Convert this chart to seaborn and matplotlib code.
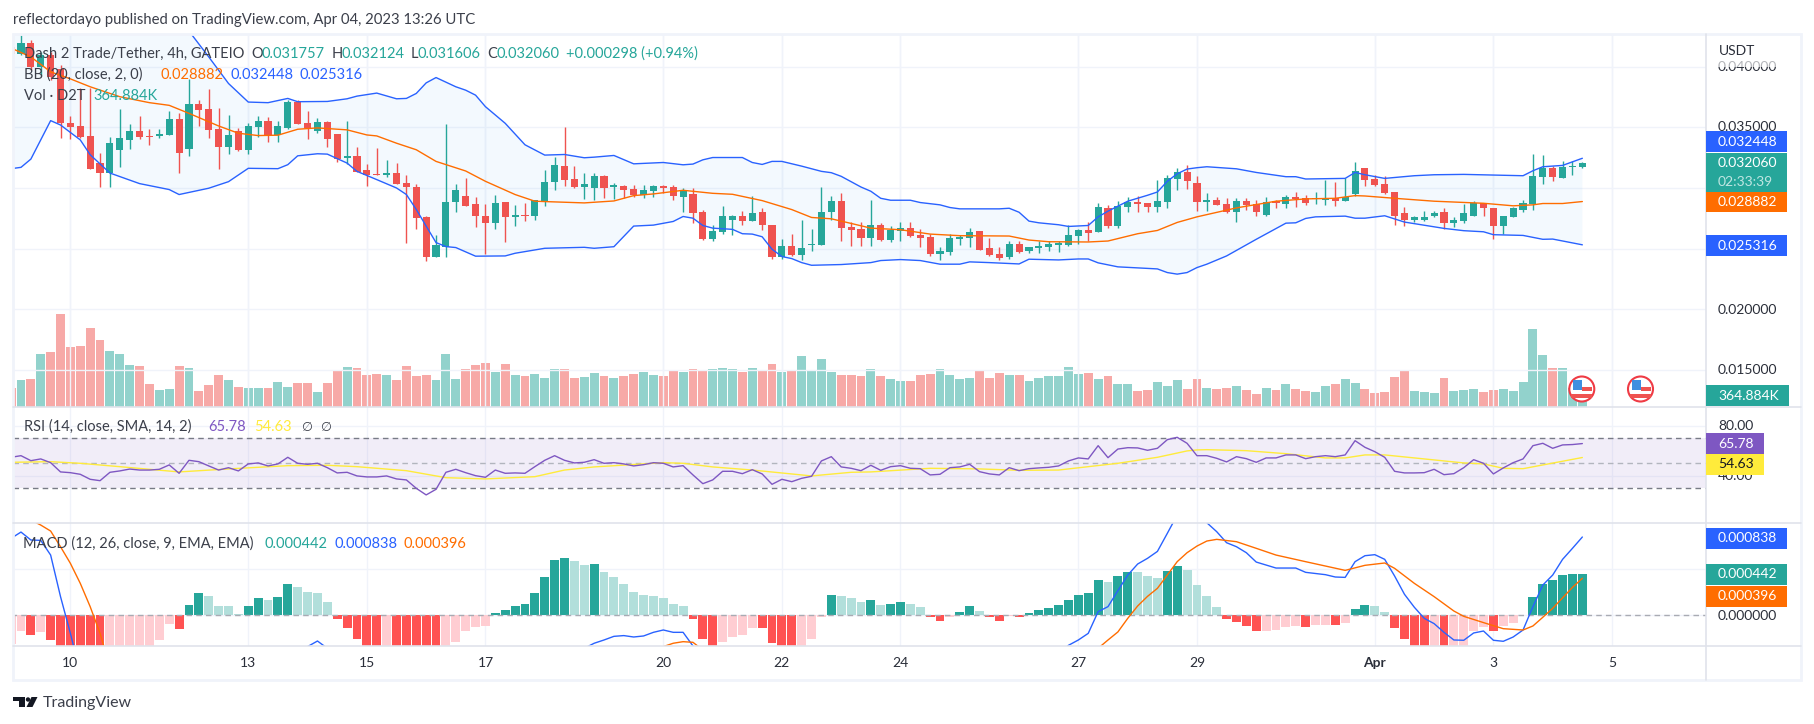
import numpy as np
import pandas as pd
import matplotlib
matplotlib.use("Agg")
import matplotlib.pyplot as plt
from matplotlib.patches import Rectangle, Circle, Polygon
import seaborn as sns

sns.set_theme(style="white")
plt.rcParams['font.family'] = ['Lato', 'DejaVu Sans']

# ---------------------- CANDLES (values in 0.001 USDT, 4h bars) ----------------------
open_ = [41.60,41.01,41.97,39.97,40.98,39.84,35.36,35.11,34.29,32.05,
         31.20,33.14,33.96,34.70,34.29,34.29,34.37,35.66,33.25,36.91,
         36.48,34.84,33.39,34.67,33.14,35.03,35.52,34.34,34.92,37.10,
         35.36,34.70,35.44,34.45,32.43,32.65,31.50,31.18,31.04,31.26,
         30.44,30.11,27.57,24.29,25.16,28.88,29.37,28.72,27.73,27.08,
         28.83,27.57,27.81,27.65,28.96,30.52,31.83,30.77,30.11,30.03,
         31.01,30.05,30.19,29.95,29.45,29.78,30.19,30.11,29.29,29.54,
         27.98,25.77,26.34,27.40,27.73,27.24,28.06,26.99,24.29,25.19,
         24.45,25.27,25.27,27.98,28.96,26.75,26.59,25.85,26.91,25.68,
         26.42,26.67,26.09,25.93,24.54,24.70,25.77,25.85,26.42,25.03,
         24.54,24.29,25.36,24.78,25.03,25.11,25.27,25.27,26.01,26.50,
         26.34,28.39,26.83,28.47,28.88,28.80,28.47,28.88,30.77,31.34,
         30.44,28.88,29.04,28.72,28.06,28.96,28.72,27.81,28.96,28.72,
         29.29,29.21,29.10,29.04,29.21,28.96,29.54,31.67,30.77,30.36,
         29.70,27.90,27.40,27.40,27.73,27.98,27.08,27.24,27.65,28.80,
         28.39,26.83,27.57,28.22,28.72,30.93,31.61,30.85,31.69,31.757]
high = [41.80,42.57,42.16,41.20,41.20,40.11,35.93,38.28,38.28,32.87,
        34.18,36.48,35.27,35.93,34.86,34.86,36.37,36.15,38.99,37.24,
        38.14,36.56,36.01,34.92,35.33,35.90,35.82,35.52,37.24,37.24,
        36.34,35.74,35.49,34.45,35.52,33.39,32.00,33.31,32.32,32.05,
        31.07,30.33,27.73,26.09,35.27,30.36,30.85,29.26,28.72,29.43,
        28.88,28.63,28.80,29.04,31.50,32.57,35.03,31.83,31.26,31.26,
        31.09,30.44,30.27,30.27,30.27,30.27,30.27,30.27,30.03,30.03,
        28.22,26.99,28.55,27.81,28.14,29.37,28.31,26.99,25.77,26.18,
        27.32,26.59,30.11,29.37,29.62,27.16,27.16,29.04,27.08,26.83,
        27.16,27.16,26.59,26.18,25.11,26.18,26.09,26.67,26.42,25.85,
        25.11,25.60,25.60,25.11,25.60,25.60,25.60,26.99,26.59,27.16,
        28.80,28.63,28.96,29.29,29.37,28.80,30.68,31.09,31.67,31.91,
        31.01,29.62,29.29,29.21,29.21,29.21,29.04,29.29,29.04,29.45,
        29.70,29.45,29.70,30.68,30.52,30.85,32.16,31.67,31.09,31.01,
        29.70,28.47,27.73,28.14,28.14,28.39,27.57,28.72,28.96,28.80,
        28.39,27.73,28.47,29.04,32.81,32.73,31.78,32.24,32.24,32.124]
low = [40.90,40.93,39.70,39.21,38.88,34.15,34.07,34.10,31.58,30.06,
       30.06,31.69,33.20,34.02,33.55,34.10,34.37,31.20,32.60,35.11,
       34.15,31.58,32.81,33.06,32.81,34.18,33.80,33.80,34.84,35.27,
       34.04,34.56,33.39,32.10,32.00,31.34,30.19,31.04,30.87,30.36,
       25.44,26.59,23.96,24.29,24.34,28.06,28.55,26.75,24.54,26.59,
       25.52,26.83,27.30,27.32,28.55,29.86,30.19,30.03,29.13,29.04,
       29.21,29.13,29.21,29.29,29.21,29.29,29.59,29.04,28.06,27.08,
       25.68,25.60,26.18,26.09,26.99,27.24,26.50,24.13,24.13,24.37,
       24.04,24.78,25.27,27.40,25.60,25.19,25.19,25.19,25.60,25.52,
       25.60,25.93,25.11,24.37,24.04,24.45,25.27,25.11,24.86,24.37,
       24.04,24.13,24.62,24.62,24.62,24.78,24.70,25.19,25.36,25.60,
       26.34,26.67,26.67,27.98,27.98,27.98,28.06,28.39,29.86,29.95,
       28.14,28.14,28.63,27.90,27.16,28.22,27.73,27.65,28.39,28.39,
       28.47,28.63,28.72,28.63,28.55,28.96,29.37,30.19,30.19,29.54,
       26.91,26.83,27.16,27.24,27.57,26.59,26.75,27.08,27.65,27.73,
       25.77,26.18,27.57,27.98,28.22,30.35,30.60,30.85,31.09,31.606]
close = [41.00,41.97,39.97,40.98,39.15,35.38,35.03,34.18,31.58,31.20,
         33.69,34.10,34.70,34.21,34.24,34.45,35.66,32.92,36.91,36.42,
         34.78,33.39,34.37,33.09,35.11,35.52,34.32,35.11,37.10,35.27,
         34.92,35.44,34.04,32.38,32.65,31.34,31.07,31.04,31.26,30.36,
         30.11,27.49,24.29,25.27,28.88,29.86,28.55,27.65,27.08,28.80,
         27.57,27.81,27.65,29.04,30.52,31.91,30.68,30.11,30.36,31.01,
         30.03,30.27,29.86,29.40,29.86,30.19,30.03,29.37,29.78,27.90,
         25.77,26.42,27.73,27.73,27.24,27.90,26.91,24.29,25.19,24.45,
         25.03,25.36,28.06,28.96,26.67,26.50,25.85,26.91,25.68,26.50,
         26.67,26.01,25.85,24.54,24.78,25.85,25.93,26.34,24.86,24.45,
         24.21,25.36,24.70,25.11,25.19,25.36,25.44,26.09,26.50,26.26,
         28.47,26.83,28.55,28.88,28.72,28.47,28.96,30.85,31.34,30.60,
         28.88,29.04,28.63,28.06,28.96,28.63,28.06,28.88,28.80,29.29,
         29.13,28.80,29.18,29.21,28.96,29.29,31.42,30.68,30.27,29.62,
         27.73,27.40,27.57,27.57,27.90,27.08,27.32,27.90,28.80,28.31,
         26.83,27.65,28.31,28.80,31.01,31.61,30.93,31.75,31.83,32.060]

# volume in K, one per candle
volume = [627,891,924,1749,1815,3069,1980,2013,2607,2211,
          1848,1749,1386,1353,759,561,594,1353,1287,528,
          726,1056,891,660,627,627,627,825,660,792,
          792,495,792,1221,1320,1287,1056,1089,1056,891,
          1353,1023,1056,891,1749,924,1254,1386,1452,1155,
          1419,1056,1023,1089,957,1254,1254,957,990,1122,
          1023,957,1023,1089,1155,1056,1023,1188,1155,1254,
          1221,1254,1287,1254,1155,1287,1221,1419,1155,1188,
          1683,1221,1584,1155,1056,1056,1023,1254,1023,924,
          858,858,1056,1089,1254,1056,924,957,1188,957,
          1122,1056,1056,858,957,1023,1023,1320,1089,1122,
          924,1023,759,759,528,561,825,693,891,594,
          924,627,594,627,693,561,429,627,561,759,
          594,528,495,693,759,924,792,594,462,495,
          990,1188,528,495,462,957,528,561,594,495,
          561,594,528,825,2574,1716,1287,1287,605,364.884]

# ---------------------- BOLLINGER BANDS (0.001 USDT, read at the line's bends) ----------------------
upper_x = [-6,4,11,12,14,16,18,20,22,23,26,28,29,31,33,34,35,36,37,39,40,41,42,44,46,48,50,52,53,
           55,57,60,62,63,64,65,68,69,70,71,72,74,76,77,78,80,81,82,83,85,86,88,89,90,94,95,96,97,98,
           100,101,103,104,105,106,107,109,110,111,112,113,114,115,118,120,123,124,125,129,130,131,133,
           136,138,141,147,148,149,151,153]
upper = [47.0,47.0,44.5,42.93,40.80,38.61,37.08,37.03,37.38,37.11,37.13,37.35,37.57,37.82,37.35,37.38,37.79,38.66,39.10,
         38.34,38.06,37.65,36.70,35.33,33.56,32.71,32.76,32.49,32.54,
         32.68,31.99,32.10,31.91,31.97,32.32,32.51,32.51,32.10,31.94,32.19,32.19,31.80,31.37,31.26,30.96,
         30.08,29.73,29.15,28.99,28.99,28.80,28.61,28.39,28.28,28.28,28.33,28.00,27.27,27.13,
         26.97,26.83,26.91,27.62,28.09,28.50,28.91,29.40,29.67,30.55,31.17,31.56,31.67,31.75,31.58,
         31.28,30.93,30.93,30.74,30.79,31.28,31.09,30.79,31.01,31.09,31.12,31.01,31.42,31.75,31.86,32.448]
lower_x = [-6,-5,-4,-2,-1,1,2,4,7,10,11,14,16,18,21,22,23,25,26,28,29,31,33,34,35,36,37,38,39,41,44,45,48,52,
           53,55,57,59,61,62,63,64,65,67,68,69,70,71,72,73,74,75,78,81,82,84,86,88,90,91,93,96,97,100,102,103,
           104,106,110,111,112,113,114,115,117,120,123,124,125,126,129,130,131,133,135,139,141,143,144,147,149,150,153]
lower = [31.59,31.70,32.38,35.55,35.19,33.96,32.74,31.23,30.36,29.87,29.46,29.98,30.52,31.62,31.59,31.92,32.65,32.82,32.79,
         32.05,31.37,30.69,30.00,29.46,28.23,26.86,25.50,25.17,25.09,24.38,24.40,24.62,25.03,25.11,
         25.03,25.16,26.86,26.94,27.24,27.65,27.51,26.91,26.69,26.59,26.23,26.20,25.98,24.95,24.35,24.18,23.85,23.63,
         23.69,23.85,24.02,24.10,24.02,23.72,23.72,23.91,23.85,23.74,24.13,24.07,24.15,24.15,
         23.83,23.50,23.33,23.03,22.90,23.03,23.44,23.72,24.40,25.77,27.10,27.13,27.49,27.62,27.68,27.51,27.51,27.71,
         27.19,26.67,26.48,26.39,26.15,26.09,25.77,25.79,25.316]
basis_x = [-6,-4,-2,0,2,5,8,10,12,15,17,19,21,23,25,28,30,31,33,35,37,40,42,45,47,48,52,
           55,57,59,62,65,67,70,73,75,77,79,81,84,87,90,95,97,99,103,105,108,110,112,114,
           118,122,125,128,130,131,134,138,143,146,148,149,151,153]
basis = [41.53,40.80,39.57,38.99,38.34,37.52,37.03,36.81,36.15,35.11,34.51,34.32,34.35,34.84,34.95,34.79,34.37,34.29,33.69,
         33.15,32.19,31.40,30.55,29.46,28.91,28.88,28.77,
         28.93,29.37,29.51,29.81,29.56,29.48,28.96,28.22,27.57,27.46,27.08,26.69,26.56,26.20,26.07,26.04,25.71,25.57,
         25.55,25.63,26.23,26.50,27.16,27.62,
         28.36,28.91,29.10,29.15,29.37,29.34,29.15,28.91,28.74,28.53,28.61,28.72,28.72,28.882]

# ---------------------- RSI ----------------------
rsi = [54.8,56.1,52.1,53.5,50.5,43.1,42.5,41.2,37.2,36.1,
       42.8,43.9,45.4,44.6,44.6,45.2,48.7,42.0,52.4,51.3,
       47.9,44.6,46.5,43.9,49.5,50.3,47.9,49.5,54.8,50.0,
       49.2,50.0,46.5,42.3,42.8,39.9,39.1,39.1,39.9,37.5,
       36.7,30.0,24.7,29.2,42.8,45.2,42.5,40.1,38.8,44.6,
       42.0,42.3,42.0,47.3,52.4,56.1,52.4,50.3,50.8,52.9,
       50.0,50.5,49.5,47.9,48.9,50.5,50.0,47.1,48.1,40.7,
       33.7,36.7,43.6,43.6,41.7,44.9,41.5,33.2,37.2,35.3,
       38.0,39.6,51.9,55.3,47.1,46.0,44.1,48.4,44.4,47.3,
       48.1,46.0,45.7,40.7,41.2,46.5,47.1,49.2,43.3,41.5,
       40.7,46.5,44.1,45.7,46.3,46.8,47.9,51.9,54.3,53.5,
       64.1,54.5,61.4,62.5,62.3,60.4,62.0,68.9,70.8,66.0,
       56.1,56.1,54.0,51.1,55.3,53.7,50.8,54.3,54.3,56.7,
       56.7,53.7,55.3,56.1,55.3,56.7,68.1,62.8,59.3,54.8,
       43.6,42.3,42.3,42.5,45.2,40.9,41.7,46.5,52.9,50.0,
       41.5,46.3,50.5,53.5,64.1,66.0,62.0,64.7,65.0,65.78]
rsi_ma_x = [-6,-2,1,5,8,11,16,22,26,29,34,38,42,47,50,53,60,62,65,69,75,79,81,87,92,96,100,106,110,113,114,115,
            119,123,127,129,131,133,137,141,143,145,147,153]
rsi_ma = [50.8,51.3,50.0,47.3,45.2,43.1,45.5,48.1,48.4,47.3,44.1,38.5,37.5,39.3,44.6,47.1,50.5,50.0,47.1,44.6,39.9,
          42.8,43.1,46.0,45.5,44.4,44.6,50.0,54.8,59.9,60.7,60.9,60.1,57.7,54.3,54.3,56.7,56.7,53.5,50.3,49.5,46.0,45.7,54.63]

# ---------------------- MACD (values in 0.000001) ----------------------
macd_hist = [-307,-168,-210,-178,-264,-380,-440,-470,-480,-490,
             -470,-440,-420,-400,-350,-264,-93,-146,111,239,
             207,100,100,14,100,185,164,196,335,303,
             250,239,143,-39,-135,-253,-340,-360,-350,-370,
             -390,-420,-450,-480,-430,-285,-168,-125,-114,25,
             57,100,121,239,410,592,613,581,538,549,
             463,410,335,250,217,207,185,121,100,-39,
             -253,-330,-285,-232,-210,-135,-135,-296,-340,-350,
             -330,-253,-18,217,207,185,143,164,111,121,
             143,121,89,-18,-61,-18,36,100,46,-18,
             -61,-7,-18,25,57,78,111,164,217,239,
             378,356,421,463,463,421,399,474,528,485,
             324,207,89,-39,-71,-114,-168,-168,-157,-125,
             -114,-125,-103,-103,-103,-82,68,111,100,36,
             -135,-253,-330,-340,-335,-345,-335,-325,-168,-125,
             -168,-114,-82,4,196,335,378,431,442,442]
# D = strong colour, L = pale colour of the histogram bar
hist_shade = list("LLDLDDDDDD" "LLLLLLLDDD" "LLLLDDLDDL" "LLLDDDDDLD" "DDDDLLLLLD"
                  "DDDDDDDLLD" "LLLLLLLLLD" "DDLLLLDDDD" "LLLDLLLDLD" "DLLDDLDDLD"
                  "DLDDDDDDDD" "DLDDLLLDDL" "LLLDDDDLLL" "LDLLDLDDLL" "DDDDLDLLLL"
                  "DLLDDDDDDD")
macd_x = [-6,-5,-4,-3,-2,-1,0,1,10,23,24,25,26,30,45,52,53,54,55,56,57,58,59,60,61,62,63,64,70,95,100,101,102,103,104,105,
          106,107,108,109,110,111,112,113,114,115,116,117,118,119,120,122,124,125,127,128,129,130,131,132,133,134,135,136,137,
          138,139,140,141,142,143,144,145,146,147,148,149,150,151,152,153]
macd = [824,891,806,802,645,200,-193,-620,-800,-371,-335,-275,-353,-905,-905,-353,-299,-264,-225,-217,-232,-221,-182,-157,-182,-182,
        -328,-549,-905,-905,-406,-321,-264,-193,39,93,264,431,549,610,684,877,1073,1198,1127,991,895,777,734,670,570,506,506,460,
        435,410,406,574,638,649,599,421,225,86,-32,-89,-182,-264,-267,-189,-168,-267,-278,-232,-157,93,324,431,599,717,838]
signal_x = [-6,-4,-3,-2,-1,0,1,2,3,4,10,50,58,60,61,62,63,64,70,100,103,104,105,106,107,108,109,110,111,112,113,114,115,116,
            118,120,122,125,129,131,133,134,136,138,140,141,143,145,147,148,149,150,152,153]
signal = [1091,1020,966,902,734,556,342,93,-193,-549,-850,-850,-478,-335,-299,-282,-289,-371,-850,-850,-442,-353,-264,-178,-32,
          100,203,289,431,574,670,741,795,813,788,717,645,574,481,535,560,503,342,200,46,-11,-78,-143,-157,-114,-21,75,299,396]

# ---------------------- AXIS LABELS ----------------------
date_pos = [0,18,30,42,60,72,84,102,114,132,144,156]
date_labels = ['10','13','15','17','20','22','24','27','29','Apr','3','5']
price_ticks = [0.040,0.035,0.030,0.025,0.020,0.015]
rsi_ticks = [80,40]
macd_ticks = [500,0]

W, H = 1814, 724
GREEN, RED = '#26a69a', '#ef5350'
BLUE, ORANGE, PURPLE, YELLOW = '#2962ff', '#ff6d00', '#7e57c2', '#ffeb3b'
GRID = '#f0f3fa'
EDGE = '#e0e3eb'

bars = np.arange(-6, 154)
o = np.array(open_) * 1e-3
h = np.array(high) * 1e-3
l = np.array(low) * 1e-3
c = np.array(close) * 1e-3
up = c >= o

fig = plt.figure(figsize=(W / 100, H / 100), dpi=100)

def pane(top, bottom, left=13, right=1706, zorder=1):
    ax = fig.add_axes([left / W, 1 - bottom / H, (right - left) / W, (bottom - top) / H], zorder=zorder)
    ax.patch.set_alpha(0)
    for s in ax.spines.values():
        s.set_visible(False)
    return ax

def finish(ax, ylim, yticks):
    # bar 0 sits at x=70.4 and bars are 9.882 px apart
    ax.set_xlim((13 - 70.4) / 9.882, (1706 - 70.4) / 9.882)
    ax.set_ylim(*ylim)
    ax.set_xticks(date_pos)
    ax.set_yticks(yticks)
    ax.tick_params(length=0, labelbottom=False, labelleft=False)
    ax.set_xlabel('')
    ax.set_ylabel('')
    ax.grid(True, color=GRID, lw=1)
    ax.set_axisbelow(True)

def draw_line(ax, x, y, color, lw=1.0, zorder=5):
    sns.lineplot(x=x, y=y, ax=ax, color=color, lw=lw, estimator=None, sort=False, zorder=zorder)

# ---------------------- VOLUME ----------------------
ax_vol = pane(34, 406.5, zorder=1)
vol_df = pd.DataFrame({'bar': bars, 'vol': volume, 'dir': np.where(up, 'up', 'down')})
sns.barplot(data=vol_df, x='bar', y='vol', hue='dir', palette={'up': '#92d2cc', 'down': '#f7a9a7'},
            dodge=False, native_scale=True, width=0.9, saturation=1, errorbar=None, legend=False,
            linewidth=0, ax=ax_vol)
finish(ax_vol, (0, 372.5 * 33), [])

# ---------------------- PRICE ----------------------
ax_price = pane(34, 406.5, zorder=2)
ax_price.fill(np.r_[upper_x, lower_x[::-1]], np.r_[upper, lower[::-1]] * 1e-3,
              color='#2196f3', alpha=0.05, lw=0)
ax_price.vlines(bars, l, h, color=np.where(up, GREEN, RED), lw=1.0, zorder=3)
ax_price.bar(bars, np.maximum(np.abs(c - o), 0.00003), bottom=np.minimum(o, c), width=0.72,
             color=np.where(up, GREEN, RED), linewidth=0, zorder=4)
draw_line(ax_price, upper_x, np.array(upper) * 1e-3, BLUE)
draw_line(ax_price, lower_x, np.array(lower) * 1e-3, BLUE)
draw_line(ax_price, basis_x, np.array(basis) * 1e-3, ORANGE)
finish(ax_price, (0.011992, 0.042689), price_ticks)

# ---------------------- RSI PANE ----------------------
ax_rsi = pane(406.5, 523, zorder=1)
ax_rsi.axhspan(30, 70, color=PURPLE, alpha=0.1, lw=0)
ax_rsi.axhline(70, color='#787b86', lw=1, dashes=(4, 3))
ax_rsi.axhline(30, color='#787b86', lw=1, dashes=(4, 3))
ax_rsi.axhline(50, color='#b2b5be', lw=1, dashes=(4, 3))
draw_line(ax_rsi, rsi_ma_x, rsi_ma, YELLOW)
draw_line(ax_rsi, bars, rsi, PURPLE)
finish(ax_rsi, (2.24, 95.44), rsi_ticks)

# ---------------------- MACD PANE ----------------------
ax_macd = pane(523, 645.5, zorder=1)
shade = np.array(hist_shade)
hist = np.array(macd_hist)
kind = np.where(hist >= 0, np.where(shade == 'D', 'gd', 'gl'), np.where(shade == 'D', 'rd', 'rl'))
macd_df = pd.DataFrame({'bar': bars, 'hist': hist, 'kind': kind})
sns.barplot(data=macd_df, x='bar', y='hist', hue='kind',
            palette={'gd': GREEN, 'gl': '#b2dfdb', 'rd': '#ff5252', 'rl': '#ffcdd2'},
            dodge=False, native_scale=True, width=0.9, saturation=1, errorbar=None, legend=False,
            linewidth=0, ax=ax_macd)
ax_macd.plot([-6, 165.5], [0, 0], color='#a9abb3', lw=1, dashes=(4, 3), zorder=1)
draw_line(ax_macd, macd_x, macd, BLUE)
draw_line(ax_macd, signal_x, signal, ORANGE)
finish(ax_macd, (-323, 988), macd_ticks)

# ---------------------- OVERLAY: BORDERS, TEXT, LABELS (in picture pixels) ----------------------
ov = fig.add_axes([0, 0, 1, 1], zorder=10)
ov.set_xlim(0, W)
ov.set_ylim(H, 0)
ov.axis('off')
ov.patch.set_alpha(0)

ov.add_patch(Rectangle((12.6, 34), 1801 - 12.6, 680 - 34, fill=False, ec=GRID, lw=2))
for y in (406.5, 523, 645.5):
    ov.plot([13, 1801], [y, y], color=EDGE, lw=1.2)
ov.plot([1706, 1706], [34, 680], color=EDGE, lw=1.2)

DARK = '#3b3f4a'
def txt(x, y, s, color=DARK, size=10, **kw):
    ov.text(x, y, s, color=color, fontsize=size, va='center', ha=kw.pop('ha', 'left'), **kw)

txt(13, 20, 'reflectordayo published on TradingView.com, Apr 04, 2023 13:26 UTC', size=10.7)

def zx(p):  # legend positions were read from the zoomed view
    return p / 2.613

txt(zx(62), 53.7, 'Dash 2 Trade/Tether, 4h, GATEIO', size=10.5)
txt(zx(658), 53.7, 'O', size=10.5)
txt(zx(684), 53.7, '0.031757', GREEN, size=10.5)
txt(zx(866), 53.7, 'H', size=10.5)
txt(zx(892), 53.7, '0.032124', GREEN, size=10.5)
txt(zx(1074), 53.7, 'L', size=10.5)
txt(zx(1092), 53.7, '0.031606', GREEN, size=10.5)
txt(zx(1274), 53.7, 'C', size=10.5)
txt(zx(1298), 53.7, '0.032060', GREEN, size=10.5)
txt(zx(1480), 53.7, '+0.000298 (+0.94%)', GREEN, size=10.5)
txt(zx(62), 75, 'BB (20, close, 2, 0)', size=10.5)
txt(zx(420), 75, '0.028882', ORANGE, size=10.5)
txt(zx(601), 75, '0.032448', BLUE, size=10.5)
txt(zx(783), 75, '0.025316', BLUE, size=10.5)
txt(zx(62), 96, 'Vol \u00b7 D2T', size=10.5)
txt(zx(245), 96, '364.884K', GREEN, size=10.5)
txt(zx(62), 427, 'RSI (14, close, SMA, 14, 2)', size=10.5)
txt(zx(545), 427, '65.78', PURPLE, size=10.5)
txt(zx(665), 427, '54.63', YELLOW, size=10.5)
txt(zx(787), 427, '\u2205', size=9)
txt(zx(836), 427, '\u2205', size=9)
txt(zx(60), 543.7, 'MACD (12, 26, close, 9, EMA, EMA)', size=10.5)
txt(zx(692), 543.7, '0.000442', GREEN, size=10.5)
txt(zx(873), 543.7, '0.000838', BLUE, size=10.5)
txt(zx(1054), 543.7, '0.000396', ORANGE, size=10.5)

# right axis tick text
AX = '#2a2e39'
for val, y in [('0.040000', 67), ('0.035000', 127.3), ('0.020000', 309.8), ('0.015000', 370),
               ('80.00', 425.8), ('40.00', 475.8), ('0.000000', 615.7)]:
    txt(1718, y, val, AX)
txt(1719, 51, 'USDT', AX, size=10)
# the top tick label fades out under the currency label
ov.add_patch(Rectangle((1712, 59), 85, 8, fc='white', ec='none', alpha=0.65, zorder=3.5))

# last value tags
for y0, y1, x1, col, s, tc in [(131, 152, 1787, BLUE, '0.032448', 'white'),
                               (192, 212, 1787, ORANGE, '0.028882', 'white'),
                               (235, 256, 1787, BLUE, '0.025316', 'white'),
                               (385, 406, 1789, GREEN, '364.884K', 'white'),
                               (433, 454, 1764, PURPLE, '65.78', 'white'),
                               (454, 475, 1764, YELLOW, '54.63', '#131722'),
                               (528, 549, 1787, BLUE, '0.000838', 'white'),
                               (564, 585, 1787, GREEN, '0.000442', 'white'),
                               (586, 607, 1787, ORANGE, '0.000396', 'white')]:
    ov.add_patch(Rectangle((1706, y0), x1 - 1706, y1 - y0, fc=col, ec='none', zorder=4))
    ov.text(1718, (y0 + y1) / 2, s, color=tc, fontsize=10, va='center', zorder=5)
ov.add_patch(Rectangle((1706, 153), 81, 39, fc=GREEN, ec='none', zorder=4))
ov.text(1718, 163, '0.032060', color='white', fontsize=10, va='center', zorder=5)
ov.text(1718, 182, '02:33:39', color='#bfe6e2', fontsize=10, va='center', zorder=5)

# date labels
for p, s in zip(date_pos, date_labels):
    ov.text(70.4 + 9.882 * p, 663, s, color=AX, fontsize=10, ha='center', va='center',
            fontweight='bold' if s == 'Apr' else 'normal')

# economic event flags
for fx in (1581.8, 1640.5):
    ov.add_patch(Circle((fx, 389), 12.5, fc='white', ec='#ef3b45', lw=1.5, zorder=6))
    ov.add_patch(Rectangle((fx - 10.5, 394), 21, 4, fc='#ef5350', ec='none', zorder=7))
    ov.add_patch(Rectangle((fx, 387), 10, 4, fc='#ef5350', ec='none', zorder=7))
    ov.add_patch(Rectangle((fx - 9, 380), 9, 10, fc='#3d8fe0', ec='none', zorder=8))

# TradingView logo
ov.add_patch(Polygon([(13, 697), (25, 697), (25, 707), (19, 707), (19, 701), (13, 701)], fc='#131722', ec='none'))
ov.add_patch(Circle((28, 699.5), 2.2, fc='#131722', ec='none'))
ov.add_patch(Polygon([(31.5, 697), (37.5, 697), (32.5, 707), (26.5, 707)], fc='#131722', ec='none'))
txt(43, 702.5, 'TradingView', '#3b3f4a', size=11.5)

fig.savefig('out.png', dpi=100, facecolor='white')
